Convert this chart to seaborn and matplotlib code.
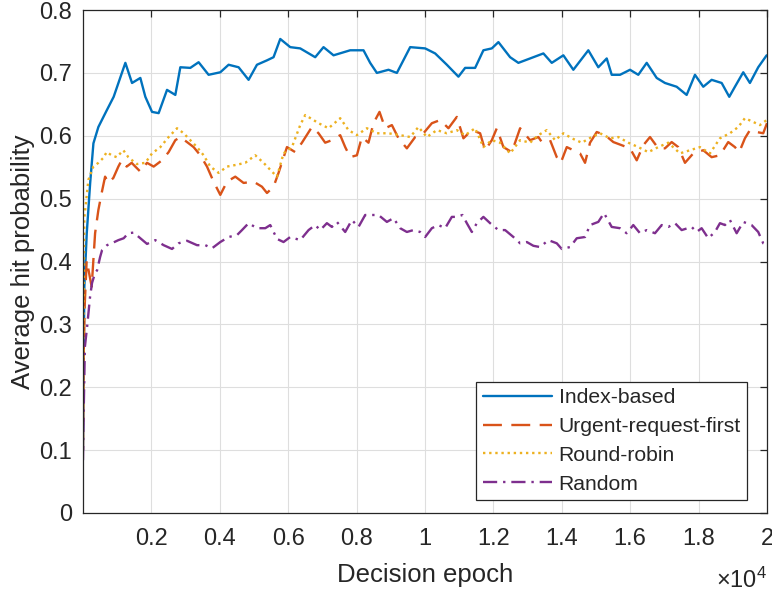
import matplotlib
matplotlib.use("Agg")
import matplotlib.pyplot as plt
import seaborn as sns
import pandas as pd
from matplotlib.ticker import FixedLocator, FixedFormatter

# ---- data: average hit probability vs. decision epoch ----
index_epoch = [0, 15, 40, 110, 210, 305, 450, 690, 897, 1093, 1239, 1434, 1677, 1823,
               2019, 2212, 2457, 2700, 2846, 3138, 3381, 3673, 4015, 4258, 4550, 4842,
               5087, 5380, 5572, 5768, 6060, 6352, 6790, 7033, 7326, 7813, 8202, 8397,
               8593, 8933, 9178, 9567, 10005, 10297, 10639, 10978, 11174, 11466, 11708,
               11954, 12147, 12489, 12731, 13073, 13462, 13707, 14046, 14338, 14776,
               15068, 15314, 15460, 15702, 15995, 16237, 16483, 16775, 17017, 17359,
               17651, 17894, 18137, 18382, 18675, 18897, 19063, 19306, 19501, 19744, 19990]
index_prob = [0.10, 0.22, 0.36, 0.445, 0.525, 0.588, 0.614, 0.640, 0.662, 0.693, 0.716,
              0.684, 0.692, 0.662, 0.638, 0.636, 0.673, 0.665, 0.709, 0.708, 0.717, 0.697,
              0.701, 0.713, 0.709, 0.689, 0.713, 0.720, 0.725, 0.754, 0.741, 0.739, 0.725,
              0.741, 0.728, 0.736, 0.736, 0.716, 0.700, 0.705, 0.700, 0.741, 0.739, 0.731,
              0.713, 0.694, 0.708, 0.708, 0.736, 0.739, 0.749, 0.725, 0.716, 0.723, 0.731,
              0.716, 0.728, 0.705, 0.736, 0.709, 0.723, 0.697, 0.697, 0.705, 0.697, 0.716,
              0.692, 0.684, 0.678, 0.665, 0.697, 0.678, 0.689, 0.684, 0.662, 0.678, 0.701,
              0.684, 0.709, 0.728]

urgent_epoch = [0, 20, 50, 108, 254, 354, 450, 546, 646, 742, 888, 1034, 1131, 1277,
                1423, 1530, 1677, 1872, 2066, 2310, 2504, 2700, 2846, 3042, 3235, 3430,
                3626, 3819, 4015, 4211, 4453, 4696, 4988, 5233, 5380, 5572, 5718, 5964,
                6206, 6402, 6694, 6888, 7082, 7278, 7521, 7667, 7813, 8009, 8155, 8348,
                8494, 8670, 8836, 9032, 9225, 9470, 9713, 9955, 10201, 10443, 10686, 10931,
                11124, 11370, 11612, 11758, 11954, 12100, 12293, 12538, 12781, 13073, 13316,
                13415, 13658, 13853, 13970, 14146, 14338, 14534, 14680, 14826, 15022, 15265,
                15508, 15753, 15995, 16191, 16384, 16580, 16822, 17017, 17213, 17406, 17602,
                17845, 18137, 18382, 18625, 18867, 19063, 19188, 19355, 19501, 19696, 19890,
                20000]
urgent_prob = [0.10, 0.25, 0.33, 0.402, 0.36, 0.445, 0.482, 0.509, 0.535, 0.525, 0.533,
               0.551, 0.561, 0.551, 0.557, 0.551, 0.543, 0.557, 0.551, 0.561, 0.574, 0.593,
               0.598, 0.590, 0.582, 0.569, 0.551, 0.527, 0.506, 0.527, 0.535, 0.525, 0.527,
               0.519, 0.509, 0.519, 0.541, 0.582, 0.574, 0.589, 0.614, 0.604, 0.589, 0.593,
               0.601, 0.582, 0.566, 0.569, 0.598, 0.589, 0.620, 0.638, 0.612, 0.617, 0.596,
               0.580, 0.598, 0.604, 0.620, 0.625, 0.612, 0.630, 0.596, 0.609, 0.604, 0.577,
               0.593, 0.612, 0.582, 0.574, 0.612, 0.593, 0.598, 0.590, 0.593, 0.566, 0.557,
               0.582, 0.577, 0.572, 0.557, 0.589, 0.606, 0.601, 0.590, 0.585, 0.580, 0.561,
               0.585, 0.598, 0.580, 0.580, 0.590, 0.582, 0.557, 0.572, 0.577, 0.566, 0.569,
               0.590, 0.582, 0.574, 0.596, 0.609, 0.606, 0.604, 0.620]

robin_epoch = [0, 15, 40, 158, 304, 450, 596, 692, 838, 984, 1180, 1326, 1570, 1823, 2019,
               2262, 2504, 2750, 2943, 3138, 3334, 3527, 3723, 3965, 4211, 4503, 4745, 5037,
               5280, 5526, 5672, 5864, 6110, 6352, 6498, 6741, 6888, 7180, 7521, 7764, 8009,
               8301, 8593, 8933, 9274, 9567, 9809, 10055, 10347, 10639, 10931, 11174, 11466,
               11708, 11954, 12196, 12489, 12781, 13073, 13316, 13561, 13804, 14046, 14292,
               14584, 14876, 15119, 15411, 15654, 15946, 16237, 16530, 16822, 17114, 17456,
               17748, 18040, 18332, 18625, 18917, 19160, 19355, 19598, 19793, 19990]
robin_prob = [0.12, 0.30, 0.47, 0.530, 0.551, 0.557, 0.565, 0.574, 0.569, 0.566, 0.577,
              0.566, 0.555, 0.557, 0.572, 0.582, 0.598, 0.612, 0.604, 0.593, 0.582, 0.569,
              0.551, 0.541, 0.551, 0.554, 0.557, 0.569, 0.557, 0.543, 0.535, 0.572, 0.582,
              0.617, 0.633, 0.625, 0.620, 0.612, 0.628, 0.609, 0.601, 0.612, 0.604, 0.604,
              0.601, 0.598, 0.614, 0.598, 0.609, 0.604, 0.609, 0.601, 0.612, 0.582, 0.593,
              0.589, 0.572, 0.593, 0.589, 0.601, 0.609, 0.593, 0.604, 0.596, 0.589, 0.598,
              0.604, 0.596, 0.598, 0.589, 0.582, 0.574, 0.582, 0.589, 0.572, 0.577, 0.582,
              0.572, 0.596, 0.604, 0.614, 0.628, 0.622, 0.617, 0.625]

random_epoch = [0, 20, 55, 120, 207, 265, 354, 412, 500, 557, 646, 704, 840, 1034, 1190,
                1326, 1482, 1677, 1872, 2115, 2358, 2603, 2796, 3042, 3334, 3577, 3772, 4015,
                4258, 4503, 4649, 4842, 5087, 5330, 5476, 5672, 5864, 6060, 6352, 6596, 6790,
                6937, 7132, 7278, 7424, 7667, 7862, 8056, 8251, 8446, 8640, 8886, 9079, 9274,
                9470, 9663, 9859, 10005, 10201, 10394, 10589, 10785, 10931, 11095, 11223,
                11370, 11516, 11708, 11904, 12147, 12343, 12585, 12781, 12977, 13170, 13365,
                13608, 13853, 13999, 14242, 14438, 14680, 14826, 15068, 15235, 15460, 15702,
                15897, 16091, 16287, 16483, 16725, 16921, 17114, 17310, 17505, 17797, 17943,
                18089, 18283, 18479, 18625, 18771, 18917, 19113, 19306, 19550, 19744, 19890,
                20000]
random_prob = [0.084, 0.16, 0.264, 0.296, 0.344, 0.366, 0.382, 0.386, 0.407, 0.418, 0.423,
               0.426, 0.429, 0.434, 0.437, 0.445, 0.446, 0.437, 0.428, 0.434, 0.426, 0.420,
               0.429, 0.433, 0.426, 0.426, 0.421, 0.431, 0.439, 0.442, 0.450, 0.461, 0.453,
               0.453, 0.458, 0.436, 0.431, 0.439, 0.434, 0.450, 0.458, 0.450, 0.461, 0.455,
               0.463, 0.447, 0.466, 0.455, 0.474, 0.474, 0.474, 0.463, 0.469, 0.453, 0.447,
               0.450, 0.447, 0.439, 0.453, 0.458, 0.453, 0.471, 0.471, 0.474, 0.461, 0.447,
               0.461, 0.471, 0.461, 0.450, 0.450, 0.439, 0.429, 0.431, 0.425, 0.423, 0.434,
               0.429, 0.420, 0.423, 0.437, 0.439, 0.458, 0.463, 0.477, 0.455, 0.453, 0.445,
               0.458, 0.445, 0.450, 0.445, 0.458, 0.455, 0.461, 0.450, 0.455, 0.447, 0.453,
               0.437, 0.447, 0.461, 0.458, 0.466, 0.445, 0.463, 0.458, 0.447, 0.429, 0.426]

policy_names = ["Index-based", "Urgent-request-first", "Round-robin", "Random"]
xtick_values = [2000, 4000, 6000, 8000, 10000, 12000, 14000, 16000, 18000, 20000]
xtick_labels = ["0.2", "0.4", "0.6", "0.8", "1", "1.2", "1.4", "1.6", "1.8", "2"]
ytick_values = [0, 0.1, 0.2, 0.3, 0.4, 0.5, 0.6, 0.7, 0.8]
ytick_labels = ["0", "0.1", "0.2", "0.3", "0.4", "0.5", "0.6", "0.7", "0.8"]

series = [
    (policy_names[0], index_epoch, index_prob),
    (policy_names[1], urgent_epoch, urgent_prob),
    (policy_names[2], robin_epoch, robin_prob),
    (policy_names[3], random_epoch, random_prob),
]
frames = [pd.DataFrame({"epoch": e, "prob": p, "policy": n}) for n, e, p in series]
df = pd.concat(frames, ignore_index=True)

# ---- styling ----
sns.set_style("white")
plt.rcParams["font.family"] = ["Liberation Sans", "DejaVu Sans"]
plt.rcParams["mathtext.fontset"] = "custom"
plt.rcParams["mathtext.rm"] = "Liberation Sans"
plt.rcParams["mathtext.it"] = "Liberation Sans:italic"

colors = {"Index-based": "#0072BD", "Urgent-request-first": "#D95319",
          "Round-robin": "#EDB120", "Random": "#7E2F8E"}
styles = {"Index-based": "-", "Urgent-request-first": (0, (8, 4)),
          "Round-robin": (0, (1, 1.6)), "Random": (0, (6, 2.5, 1, 2.5))}
axis_color = "#262626"

fig = plt.figure(figsize=(7.72, 5.91), dpi=100)
ax = fig.add_axes([0.1075, 0.132, 0.886, 0.851])

handles = []
for name in policy_names:
    sub = df[df["policy"] == name]
    sns.lineplot(data=sub, x="epoch", y="prob", ax=ax, color=colors[name],
                 linestyle=styles[name], linewidth=1.7, estimator=None, sort=True)
    handles.append(ax.lines[-1])

ax.set_xlim(0, 20000)
ax.set_ylim(0, 0.8)
ax.xaxis.set_major_locator(FixedLocator(xtick_values))
ax.xaxis.set_major_formatter(FixedFormatter(xtick_labels))
ax.yaxis.set_major_locator(FixedLocator(ytick_values))
ax.yaxis.set_major_formatter(FixedFormatter(ytick_labels))

ax.grid(True, color="#dedede", linewidth=0.8)
ax.set_axisbelow(True)
for sp in ax.spines.values():
    sp.set_visible(True)
    sp.set_color(axis_color)
    sp.set_linewidth(0.9)
ax.tick_params(direction="in", length=5, width=0.9, color=axis_color,
               labelcolor=axis_color, labelsize=17, top=True, right=True)
ax.tick_params(axis="x", pad=11)
ax.tick_params(axis="y", pad=8)

ax.set_xlabel("Decision epoch", fontsize=18.5, color=axis_color, labelpad=9)
ax.set_ylabel("Average hit probability", fontsize=18.5, color=axis_color, labelpad=3)
ax.text(1.0, -0.133, r"$\times10^{4}$", transform=ax.transAxes, ha="right",
        va="center", fontsize=17, color=axis_color)

leg = ax.legend(handles, policy_names, loc="lower right",
                bbox_to_anchor=(0.971, 0.026), borderaxespad=0, fontsize=15.2,
                handlelength=3.3, handletextpad=0.3, labelspacing=0.46,
                borderpad=0.3, fancybox=False, framealpha=1, edgecolor=axis_color)
leg.get_frame().set_linewidth(0.9)
for t in leg.get_texts():
    t.set_color(axis_color)

fig.savefig("out.png", dpi=100)
